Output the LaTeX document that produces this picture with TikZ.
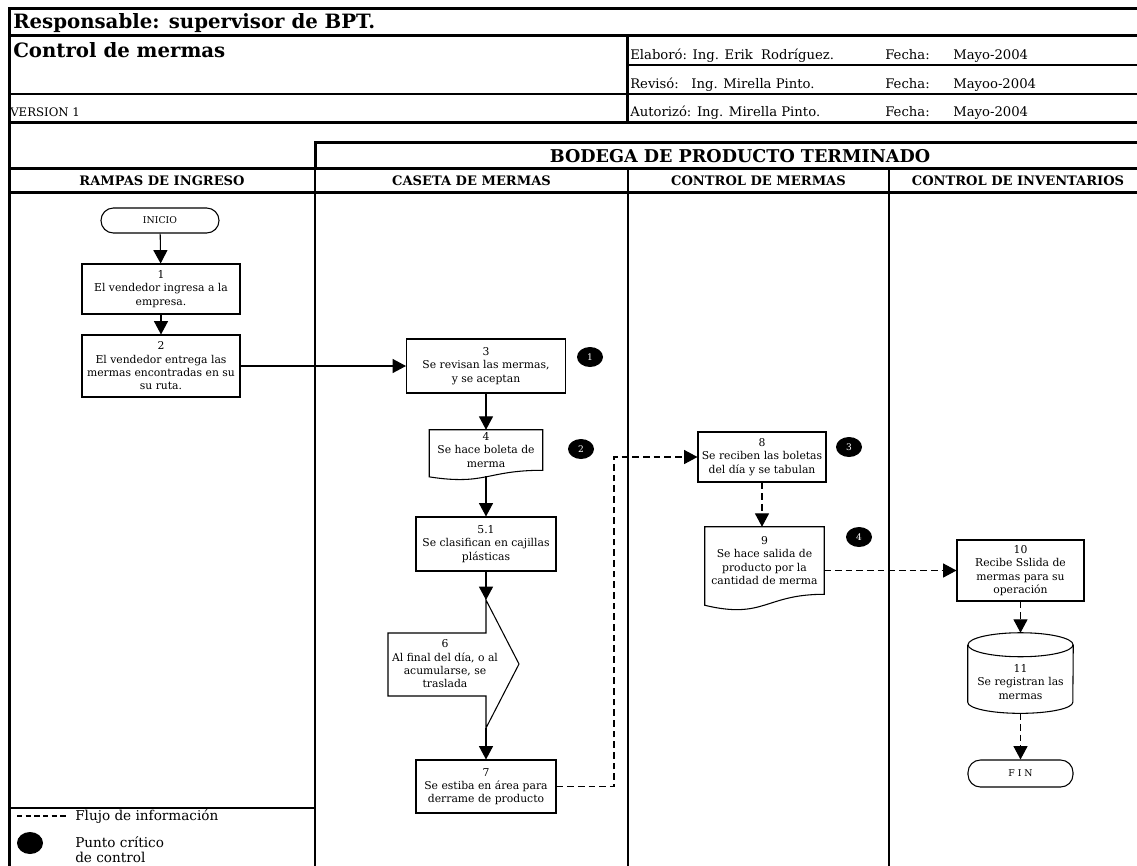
\documentclass[tikz,border=0pt]{standalone}
\usepackage{fontspec}
\setmainfont{DejaVu Serif}
\usetikzlibrary{arrows.meta,shapes.geometric,calc}

% type sizes used on the sheet
\newcommand\nf{\fontsize{8.1}{10}\selectfont}
\newcommand\hf{\fontsize{9.9}{11.5}\selectfont}
\newcommand\vf{\fontsize{8.8}{10.5}\selectfont}
\newcommand\lgf{\fontsize{10.2}{12}\selectfont}
\newcommand\tf{\fontsize{14.8}{17}\selectfont\bfseries}
\newcommand\lanef{\fontsize{9.8}{11}\selectfont\bfseries}
\newcommand\bodegaf{\fontsize{13.2}{15}\selectfont\bfseries}

\begin{document}
\begin{tikzpicture}[x=0.75pt,y=-0.75pt,
  heavy/.style={line width=2.25pt},
  medium/.style={line width=1.5pt},
  thin/.style={line width=0.8pt},
  box/.style={draw,line width=0.8pt,align=center,font=\nf,inner sep=1pt},
  sz/.style 2 args={minimum width=#1*0.75pt,minimum height=#2*0.75pt},
  term/.style={box,rounded corners=9.3pt},
  plain/.style={inner sep=0pt,align=center,font=\nf},
  crit/.style={ellipse,fill=black,text=white,inner sep=0pt,minimum width=19.5pt,minimum height=15pt,font=\fontsize{6.8}{7}\selectfont},
  arr/.style={line width=0.8pt,-{Triangle[width=10.5pt,length=10pt]}},
  flow/.style={arr,dash pattern=on 5pt off 3pt},
  hdr/.style={anchor=base west,inner sep=0pt,font=\hf},
  lane/.style={anchor=base,inner sep=0pt,font=\lanef},
]
\useasboundingbox (0,0) rectangle (1137,865);
\clip (0,0) rectangle (1137,865);

% ---------- sheet frame and header rules ----------
\draw[heavy] (1140,8) -- (9,8) -- (9,870);
\draw[heavy] (9,35) -- (1140,35);
\draw[thin] (627,65) -- (1140,65);
\draw[medium] (9,94) -- (1140,94);
\draw[heavy] (9,122) -- (1140,122);
\draw[heavy] (627,35) -- (627,122);
\draw[heavy] (1140,142) -- (315,142) -- (315,168);
\draw[heavy] (9,168) -- (1140,168);
\draw[heavy] (9,192) -- (1140,192);
\foreach \x in {315,628,889} \draw[thin] (\x,168) -- (\x,870);
\draw[thin] (9,808) -- (315,808);

% ---------- header texts ----------
\node[hdr,font=\tf] (resp) at (13,28) {Responsable: supervisor de BPT.};
\node[hdr,font=\tf] (titulo) at (13,57) {Control de mermas};
\node[hdr,font=\vf] (ver) at (10,116) {VERSION 1};
\node[hdr] (elab) at (630,59) {Elaboró: Ing. Erik\ \ Rodríguez.};
\node[hdr] (fe1) at (885,59) {Fecha:};
\node[hdr] (ma1) at (953,59) {Mayo-2004};
\node[hdr] (rev) at (630,88) {Revisó:\ \ \ Ing. Mirella Pinto.};
\node[hdr] (fe2) at (885,88) {Fecha:};
\node[hdr] (ma2) at (953,88) {Mayoo-2004};
\node[hdr] (aut) at (630,116) {Autorizó: Ing. Mirella Pinto.};
\node[hdr] (fe3) at (885,116) {Fecha:};
\node[hdr] (ma3) at (953,116) {Mayo-2004};

\node[anchor=base,inner sep=0pt,font=\bodegaf] (bodega) at (740,162) {BODEGA DE PRODUCTO TERMINADO};
\node[lane] (l1) at (162,185) {RAMPAS DE INGRESO};
\node[lane] (l2) at (471.5,185) {CASETA DE MERMAS};
\node[lane] (l3) at (758.5,185) {CONTROL DE MERMAS};
\node[lane] (l4) at (1018,185) {CONTROL DE INVENTARIOS};

% ---------- process steps ----------
\node[term,sz={118}{25},font=\fontsize{7}{8}\selectfont] (inicio) at (160,220.5) {INICIO};
\node[box,sz={158}{50}] (b1) at (161,289) {1\\El vendedor ingresa a la\\empresa.};
\node[box,sz={158}{62}] (b2) at (161,366) {2\\El vendedor entrega las\\mermas encontradas en su\\su ruta.};
\node[box,sz={159}{54}] (b3) at (486,366) {3\\Se revisan las mermas,\\y se aceptan};
\node[plain,sz={113}{40}] (d4) at (486,450) {4\\Se hace boleta de\\merma};
\node[box,sz={140}{54}] (b51) at (486,544) {5.1\\Se clasifican en cajillas\\plásticas};

% transport arrow (step 6)
\coordinate (t6) at (486,600);
\coordinate (p6) at (519,664);
\coordinate (u6) at (486,728);
\draw[thin,line join=miter] (t6) -- (p6) -- (u6) -- (486,696) -- (388,696) -- (388,633) -- (486,633) -- cycle;
\node[plain] (n6) at (445,664) {6\\Al final del día, o al\\acumularse, se\\traslada};

\node[box,sz={140}{53}] (b7) at (486,786.5) {7\\Se estiba en área para\\derrame de producto};
\node[box,sz={128}{50}] (b8) at (762,457) {8\\Se reciben las boletas\\del día y se tabulan};
\node[plain,sz={119}{67}] (d9) at (764.5,560.5) {9\\Se hace salida de\\producto por la\\cantidad de merma};
\node[box,sz={127}{61}] (b10) at (1020.5,570.5) {10\\Recibe Sslida de\\mermas para su\\operación};
\node[plain,sz={105}{80}] (c11) at (1020.5,673) {};
\node[plain] (c11t) at (1020.5,682) {11\\Se registran las\\mermas};
\node[term,sz={105}{27},font=\fontsize{7}{8}\selectfont] (fin) at (1020.5,773.5) {F I N};

% document outlines with wavy lower edge
\draw[thin] (d4.north west) -- (d4.north east) -- (d4.south east)
  .. controls (d4.south) and ($(d4.south)+(0,15.3)$) .. ($(d4.south west)+(0,6.6)$) -- cycle;
\draw[thin] (d9.north west) -- (d9.north east) -- (d9.south east)
  .. controls (d9.south) and ($(d9.south)+(0,25.3)$) .. ($(d9.south west)+(0,11)$) -- cycle;

% storage cylinder (step 11)
\draw[thin] ($(c11.north)+(0,12)$) ellipse [x radius=39.4pt, y radius=9pt];
\draw[thin] ($(c11.north west)+(0,12)$) -- ($(c11.south west)+(0,-11)$)
  arc[start angle=180, end angle=360, x radius=39.4pt, y radius=8.3pt]
  -- ($(c11.north east)+(0,12)$);

% critical control points
\node[crit] (k1) at (590,357) {1};
\node[crit] (k2) at (581,449) {2};
\node[crit] (k3) at (849,447) {3};
\node[crit] (k4) at (859,537) {4};

% ---------- connectors ----------
\draw[arr] (inicio) -- (b1);
\draw[arr] (b1) -- (b2);
\draw[arr] (b2) -- (b3);
\draw[arr] (b3) -- (d4);
\draw[arr] ($(d4.south)+(0,6)$) -- (b51);
\draw[arr] (b51) -- (t6);
\draw[arr] (u6) -- (b7);
\coordinate (k78) at (614,786.5);
\draw[flow] (b7.east) -- (k78) |- (b8.west);
\draw[flow] (b8.south) -- (b8.south |- d9.north);
\draw[flow] (b10.west -| d9.east) -- (b10.west);
\draw[flow] (b10) -- (c11);
\draw[flow] (c11) -- (fin);

% ---------- legend ----------
\coordinate (lgA) at (17,816);
\coordinate (lgB) at (68,816);
\draw[thin,dash pattern=on 4pt off 2.5pt] (lgA) -- (lgB);
\node[anchor=west,inner sep=0pt,font=\lgf] (lgt1) at (75,817) {Flujo de información};
\node[crit,minimum width=19.5pt,minimum height=16.5pt] (lgdot) at (30,843) {};
\node[anchor=west,inner sep=0pt,font=\lgf] (lgt2) at (75,842) {Punto crítico};
\node[anchor=base west,inner sep=0pt,font=\lgf] (lgt3) at (75,862) {de control};
\end{tikzpicture}
\end{document}
